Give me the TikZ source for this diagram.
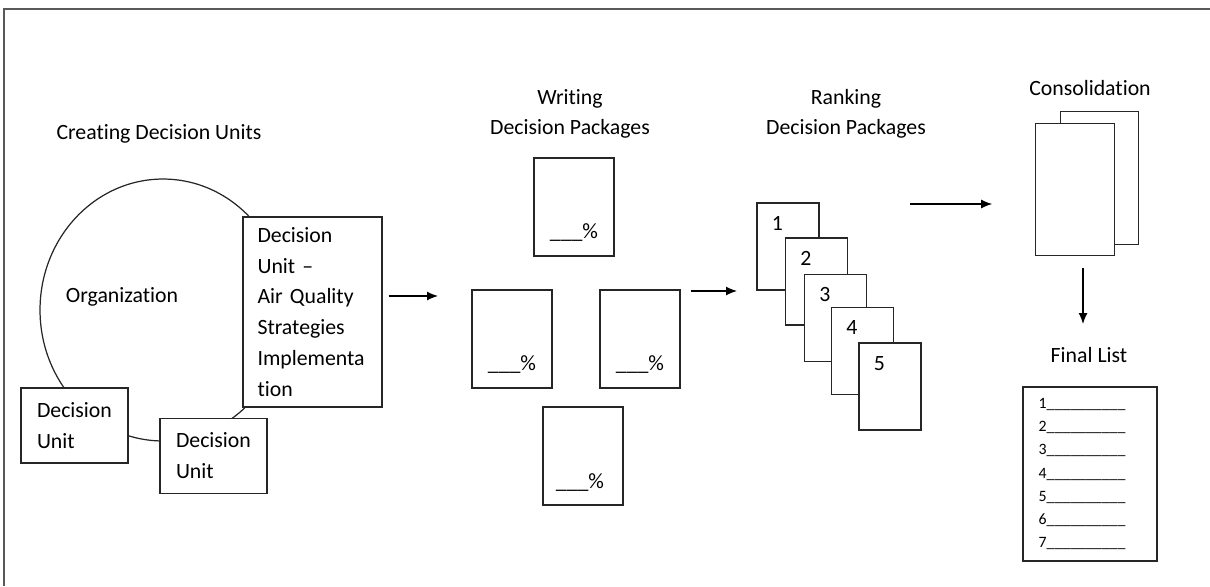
\documentclass[tikz,border=0pt]{standalone}
\usepackage{fontspec}
\setmainfont{Carlito}[Ligatures={TeX,NoCommon}]
\usetikzlibrary{positioning,arrows.meta,shapes.geometric}
\tikzset{
  box/.style={draw=black!85, fill=white, line width=0.7pt, inner sep=0pt},
  unit/.style={box, align=left, text width=1.5cm, minimum width=2.14cm, minimum height=1.5cm},
  wpage/.style={box, minimum width=1.6cm, minimum height=1.96cm},
  rpage/.style={box, minimum width=1.24cm, minimum height=1.74cm},
  cpage/.style={box, minimum width=1.57cm, minimum height=2.65cm},
  pct/.style={anchor=base, inner sep=0pt},
  num/.style={inner sep=0pt}
}

\begin{document}
\begin{tikzpicture}[x=0.02cm, y=-0.02cm, font=\fontsize{12.4}{17.6}\selectfont,
    >={Latex[length=2.2mm,width=1.8mm]}]
  \useasboundingbox (0,0) rectangle (1210,586);
  \draw[gray!70!black, line width=1.2pt] (1210,9) -- (4,9) -- (4,586);

  % creating decision units
  \node (cdu) at (159,134) {Creating Decision Units};
  \node[draw=black!85, line width=0.7pt, ellipse, minimum width=4.92cm, minimum height=5.24cm] (orgring) at (163,310) {};
  \node (org) at (122,297) {Organization};
  \node[unit, minimum width=2.78cm, minimum height=3.8cm, text width=2.2cm] (duair) at (312.5,312)
    {\rule{0pt}{0.16cm}Decision\\Unit –\\Air Quality\\Strategies\\Implementa\\tion};
  \node[unit] (du1) at (74.5,425.5) {Decision\\Unit};
  \node[unit] (du2) at (213.5,456) {Decision\\Unit};

  % writing decision packages
  \node[align=center, font=\fontsize{12.4}{17}\selectfont] (write) at (570,114) {Writing\\Decision Packages};
  \node[wpage] (wp1) at (574,207) {};
  \node[wpage] (wp2) at (512,339) {};
  \node[wpage] (wp3) at (640,339) {};
  \node[wpage] (wp4) at (583,456) {};
  \node[pct] (pc1) at ([yshift=-0.62cm]wp1.center) {\_\_\_\%};
  \node[pct] (pc2) at ([yshift=-0.62cm]wp2.center) {\_\_\_\%};
  \node[pct] (pc3) at ([yshift=-0.62cm]wp3.center) {\_\_\_\%};
  \node[pct] (pc4) at ([xshift=-0.06cm,yshift=-0.64cm]wp4.center) {\_\_\_\%};

  % ranking decision packages
  \node[align=center, font=\fontsize{12.4}{17}\selectfont] (rank) at (846,114) {Ranking\\Decision Packages};
  \node[rpage] (rp1) at (788,246.5) {};
  \node[num] (n1) at ([xshift=0.42cm,yshift=-0.42cm]rp1.north west) {1};
  \node[rpage] (rp2) at (816.5,281.5) {};
  \node[num] (n2) at ([xshift=0.42cm,yshift=-0.42cm]rp2.north west) {2};
  \node[rpage] (rp3) at (835.5,318) {};
  \node[num] (n3) at ([xshift=0.42cm,yshift=-0.42cm]rp3.north west) {3};
  \node[rpage] (rp4) at (862.5,351) {};
  \node[num] (n4) at ([xshift=0.42cm,yshift=-0.42cm]rp4.north west) {4};
  \node[rpage] (rp5) at (890,386.5) {};
  \node[num] (n5) at ([xshift=0.42cm,yshift=-0.42cm]rp5.north west) {5};

  % consolidation
  \node (cons) at (1090,88) {Consolidation};
  \node[cpage] (cback) at (1099.5,178) {};
  \node[cpage] (cfront) at (1075,189.5) {};

  % final list
  \node (flabel) at (1089,355) {Final List};
  \node[box, minimum width=2.68cm, minimum height=3.48cm] (flist) at (1090,474) {};
  \node[align=left, inner sep=0pt, font=\fontsize{9}{13.2}\selectfont] (fitems) at (1082,474)
    {1\_\_\_\_\_\_\_\_\_\_\\2\_\_\_\_\_\_\_\_\_\_\\3\_\_\_\_\_\_\_\_\_\_\\4\_\_\_\_\_\_\_\_\_\_\\5\_\_\_\_\_\_\_\_\_\_\\6\_\_\_\_\_\_\_\_\_\_\\7\_\_\_\_\_\_\_\_\_\_};

  % arrows
  \coordinate (a1end) at (438,296);
  \coordinate (a2end) at (737,291);
  \coordinate (a3start) at (910,204);
  \coordinate (a4start) at (1083,268);
  \coordinate (a4end) at (1083,324);
  \draw[->, line width=0.7pt, shorten <=0.12cm] (duair.east |- a1end) -- (a1end);
  \draw[->, line width=0.7pt, shorten <=0.2cm] (wp3.east |- a2end) -- (a2end);
  \draw[->, line width=0.7pt, shorten >=0.86cm] (a3start) -- (cfront.west |- a3start);
  \draw[->, line width=0.7pt] (a4start) -- (a4end);
\end{tikzpicture}
\end{document}
